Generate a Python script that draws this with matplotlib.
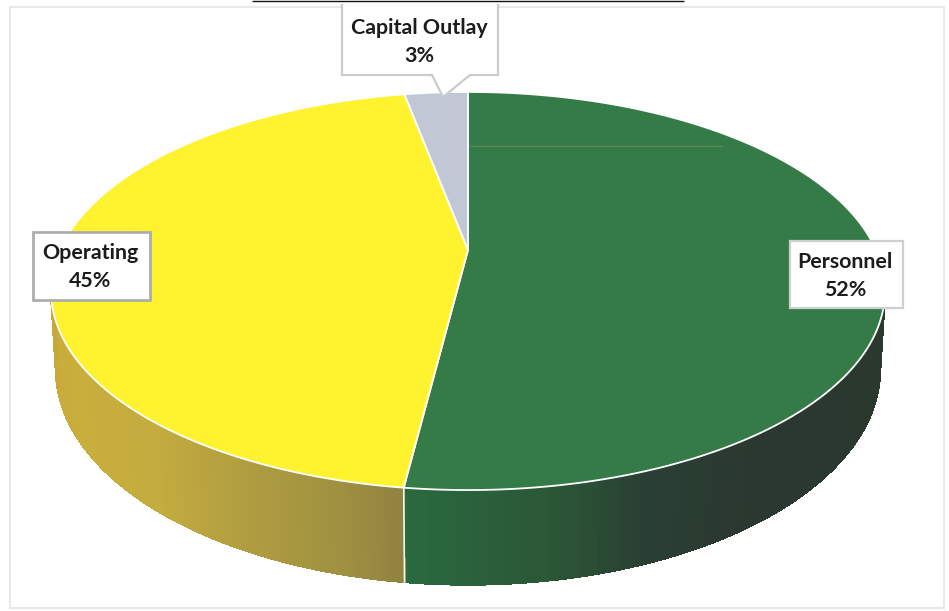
import numpy as np
import matplotlib
matplotlib.use("Agg")
import matplotlib.pyplot as plt
from matplotlib.collections import PolyCollection
from matplotlib.patches import Polygon, Rectangle

# Budget shares, clockwise from twelve o'clock
categories = ["Personnel", "Operating", "Capital Outlay"]
shares = [52, 45, 3]
slice_colors = ["#357B48", "#FFF22E", "#C1C7D5"]
# Wall shading stops per slice: (fraction along the visible wall, colour)
wall_stops = [
    [(0, "#2B382E"), (0.53, "#2B382F"), (0.70, "#2A4034"), (0.81, "#2B5636"), (1, "#2A6A3F")],
    [(0, "#8F8240"), (0.10, "#9F9140"), (0.24, "#AE9C40"), (0.44, "#C4AC3E"), (0.70, "#C9AE3C"), (1, "#C8A83A")],
    [(0, "#9A9EA8"), (1, "#9A9EA8")],
]

CX, APEX_Y = 468.0, 250.0
A, B, K = 408.0, 190.6, 0.206   # disc half-width, half-height and perspective
DEPTH = 75.0                    # wall height at the disc's middle
BOTTOM_NARROW = 0.988


def rim(theta):
    """Pixel position of the disc edge; theta runs clockwise from the top."""
    u, v = np.sin(theta), np.cos(theta)
    w = 1 + K * v
    return CX + A * u / w, APEX_Y - B * v / w


def base(theta):
    """Lower edge of the wall under the rim point at theta."""
    u, v = np.sin(theta), np.cos(theta)
    w = 1 + K * v
    return CX + BOTTOM_NARROW * A * u / w, APEX_Y - B * v / w + DEPTH / w


fig = plt.figure(figsize=(9.49, 6.11), dpi=100)
ax = fig.add_axes([0, 0, 1, 1])
ax.set_xlim(0, 949)
ax.set_ylim(611, 0)
ax.axis("off")

# Surrounding chart frame and the rule above it
ax.add_patch(Rectangle((10, 7), 934, 601, fc="white", ec="#E8E8E8", lw=1.5, zorder=0))
ax.plot([252, 684], [0.6, 0.6], color="#111111", lw=1.0, zorder=6, solid_capstyle="butt")

edges = np.deg2rad(np.concatenate([[0], np.cumsum(shares) * 3.6]))

# Side wall: only the front of the disc between the two rim limits is visible
VIS_START = np.deg2rad(97.5)
VIS_END = np.deg2rad(262.5)
for i in range(len(shares)):
    a0 = max(edges[i], VIS_START)
    a1 = min(edges[i + 1], VIS_END)
    if a1 <= a0:
        continue
    t = np.linspace(a0, a1, 160)
    rx, ry = rim(t)
    bx, by = base(t)
    pos = [s[0] for s in wall_stops[i]]
    stops = matplotlib.colors.to_rgba_array([s[1] for s in wall_stops[i]])
    frac = (t - a0) / (a1 - a0)
    mid = (frac[:-1] + frac[1:]) / 2
    cols = np.stack([np.interp(mid, pos, stops[:, c]) for c in range(4)], axis=1)
    quads = [[(rx[j], ry[j]), (rx[j + 1], ry[j + 1]), (bx[j + 1], by[j + 1]), (bx[j], by[j])]
             for j in range(len(t) - 1)]
    ax.add_collection(PolyCollection(quads, facecolors=cols, edgecolors=cols, lw=1.0,
                                     antialiased=False, zorder=2))

# Seam between the two wall sections
sx0, sy0 = rim(edges[1])
sx1, sy1 = base(edges[1])
ax.plot([sx0, sx1], [sy0, sy1], color="#F2F5EC", lw=1.2, zorder=3)

# Top face
for i in range(len(shares)):
    t = np.linspace(edges[i], edges[i + 1], 300)
    x, y = rim(t)
    pts = np.column_stack([np.r_[CX, x], np.r_[APEX_Y, y]])
    ax.add_patch(Polygon(pts, closed=True, fc=slice_colors[i], ec="white", lw=1.3, zorder=4,
                         joinstyle="round"))

# Faint fold line across the green face
ax.plot([470, 722], [146, 146], color="#6F8A60", lw=0.9, alpha=0.7, zorder=4.5)

# Labels
font = dict(family="Lato", fontsize=15.4, fontweight="bold", color="#1C1C1C",
            ha="center", va="center", linespacing=1.5, zorder=8)


def label_text(i):
    return f"{categories[i]}\n{shares[i]}%"


callout = [(342, 4), (342, 75), (432, 75), (443, 97), (470, 75), (498, 75), (498, 4)]
ax.add_patch(Polygon(callout, closed=False, fc="white", ec="#C9CCCF", lw=1.6, zorder=7))
ax.text(419, 42, label_text(2), **font)

ax.add_patch(Rectangle((33, 232), 117, 68, fc="white", ec="#ABAFAA", lw=2.0, zorder=7))
ax.text(90, 267, label_text(1), **font)

ax.add_patch(Rectangle((790, 241), 113, 67, fc="white", ec="#CFCFCF", lw=1.6, zorder=7))
ax.text(845, 276, label_text(0), **font)

fig.savefig("out.png", dpi=100, facecolor="white")
